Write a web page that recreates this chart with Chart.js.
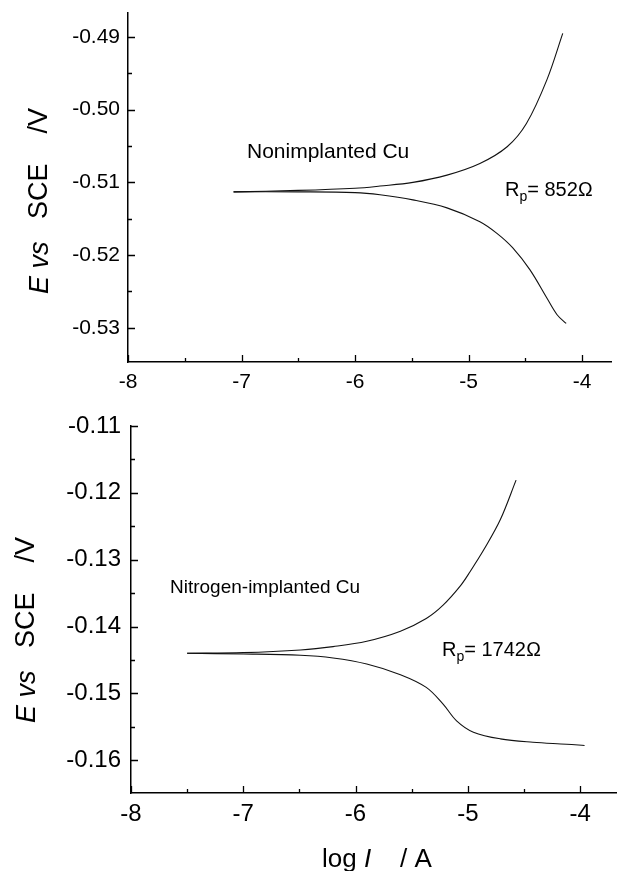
<!DOCTYPE html>
<html><head><meta charset="utf-8">
<script src="https://cdn.jsdelivr.net/npm/chart.js@4"></script>
<style>
html,body{margin:0;padding:0;background:#fff;}
#wrap{position:relative;width:617px;height:871px;overflow:hidden;}
canvas{position:absolute;left:0;}
</style></head><body>
<div id="wrap">
<canvas id="topChart" width="617" height="400" style="top:0"></canvas>
<canvas id="botChart" width="617" height="471" style="top:400px"></canvas>
</div>
<script>
// ---- Data ----
// Top panel: Nonimplanted Cu
const topAnodicLogI  = [-7.07, -6.5, -6.0, -5.78, -5.49, -5.19, -4.90, -4.66, -4.49, -4.31, -4.17];
const topAnodicE     = [-0.5113, -0.5111, -0.5108, -0.5105, -0.5100, -0.5090, -0.5074, -0.5051, -0.5019, -0.4959, -0.4895];
const topCathodicLogI = [-7.07, -6.5, -6.0, -5.78, -5.49, -5.19, -4.90, -4.75, -4.61, -4.46, -4.31, -4.22, -4.14];
const topCathodicE    = [-0.5113, -0.5113, -0.5114, -0.5117, -0.5124, -0.5135, -0.5154, -0.5170, -0.5190, -0.5220, -0.5259, -0.5282, -0.5294];
// Bottom panel: Nitrogen-implanted Cu
const botAnodicLogI  = [-7.5, -7.0, -6.49, -6.20, -5.90, -5.60, -5.37, -5.22, -5.07, -4.98, -4.85, -4.71, -4.57];
const botAnodicE     = [-0.1440, -0.1439, -0.1435, -0.1430, -0.1422, -0.1407, -0.1388, -0.1368, -0.1340, -0.1318, -0.1283, -0.1240, -0.1181];
const botCathodicLogI = [-7.5, -7.0, -6.49, -6.20, -5.90, -5.60, -5.37, -5.22, -5.10, -4.95, -4.71, -4.42, -4.12, -3.96];
const botCathodicE    = [-0.1440, -0.1441, -0.1443, -0.1447, -0.1456, -0.1472, -0.1491, -0.1516, -0.1541, -0.1558, -0.1568, -0.1573, -0.1576, -0.1578];
// Tick labels
const xTickValues = [-8, -7, -6, -5, -4];
const xMinorValues = [-7.5, -6.5, -5.5, -4.5];
const topYTicks = [-0.49, -0.50, -0.51, -0.52, -0.53];
const topYMinor = [-0.495, -0.505, -0.515, -0.525];
const botYTicks = [-0.11, -0.12, -0.13, -0.14, -0.15, -0.16];
const botYMinor = [-0.115, -0.125, -0.135, -0.145, -0.155];
// Annotation texts
const topLabel = 'Nonimplanted Cu';
const topRp = '852';
const botLabel = 'Nitrogen-implanted Cu';
const botRp = '1742';

const FONT = '"Liberation Sans", Arial, Helvetica, sans-serif';

function pts(xs, ys){ return xs.map((x,i)=>({x:x, y:ys[i]})); }

function drawRich(ctx, parts, cx, cy, rot){
  ctx.save();
  ctx.translate(cx, cy);
  ctx.rotate(rot||0);
  let w = 0;
  parts.forEach(p=>{ ctx.font = p.font; p.w = ctx.measureText(p.t).width; w += p.w; });
  let x = -w/2;
  ctx.textBaseline = 'middle';
  ctx.textAlign = 'left';
  ctx.fillStyle = '#000';
  parts.forEach(p=>{ ctx.font = p.font; ctx.fillText(p.t, x, p.dy||0); x += p.w; });
  ctx.restore();
}

function drawRp(ctx, x, y, val, size){
  ctx.save();
  ctx.fillStyle = '#000';
  ctx.textBaseline = 'middle';
  ctx.textAlign = 'left';
  ctx.font = size + 'px ' + FONT;
  ctx.fillText('R', x, y);
  let w = ctx.measureText('R').width;
  ctx.font = Math.round(size*0.7) + 'px ' + FONT;
  ctx.fillText('p', x + w, y + size*0.35);
  w += ctx.measureText('p').width;
  ctx.font = size + 'px ' + FONT;
  ctx.fillText('= ' + val + '\u2126', x + w, y);
  ctx.restore();
}

function makeDecor(cfg){
  return {
    id: 'decor',
    afterDraw(chart){
      const ctx = chart.ctx, xs = chart.scales.x, ys = chart.scales.y, a = chart.chartArea;
      ctx.save();
      ctx.strokeStyle = '#000';
      ctx.lineWidth = 1.3;
      ctx.beginPath();
      cfg.xMajor.forEach(v=>{ const p = Math.round(xs.getPixelForValue(v))+0.5; ctx.moveTo(p, a.bottom); ctx.lineTo(p, a.bottom-7); });
      cfg.xMinor.forEach(v=>{ const p = Math.round(xs.getPixelForValue(v))+0.5; ctx.moveTo(p, a.bottom); ctx.lineTo(p, a.bottom-4); });
      cfg.yMajor.forEach(v=>{ const p = Math.round(ys.getPixelForValue(v))+0.5; ctx.moveTo(a.left, p); ctx.lineTo(a.left+7, p); });
      cfg.yMinor.forEach(v=>{ const p = Math.round(ys.getPixelForValue(v))+0.5; ctx.moveTo(a.left, p); ctx.lineTo(a.left+4, p); });
      ctx.stroke();
      ctx.restore();
      // y title
      const ts = cfg.titleSize;
      drawRich(ctx, [
        {t:'E', font:'italic '+ts+'px '+FONT},
        {t:' vs', font:'italic '+ts+'px '+FONT},
        {t:'   SCE    /V', font:ts+'px '+FONT}
      ], cfg.yTitleX, cfg.yTitleY, -Math.PI/2);
      if (cfg.xTitle){
        drawRich(ctx, [
          {t:'log ', font:cfg.xTitleSize+'px '+FONT},
          {t:'I', font:'italic '+cfg.xTitleSize+'px '+FONT},
          {t:'    / A', font:cfg.xTitleSize+'px '+FONT}
        ], cfg.xTitleX, cfg.xTitleY, 0);
      }
      ctx.save();
      ctx.fillStyle = '#000';
      ctx.textBaseline = 'middle';
      ctx.textAlign = 'left';
      ctx.font = cfg.labelSize + 'px ' + FONT;
      ctx.fillText(cfg.label, cfg.labelX, cfg.labelY);
      ctx.restore();
      drawRp(ctx, cfg.rpX, cfg.rpY, cfg.rp, cfg.rpSize);
    }
  };
}

function zeroPad(s){ s.paddingTop = 0; s.paddingBottom = 0; s.paddingLeft = 0; s.paddingRight = 0; }

function makeChart(id, o){
  const line = {borderColor:'#111', borderWidth:1.1, pointRadius:0, showLine:true, fill:false, tension:0.35};
  return new Chart(document.getElementById(id), {
    type: 'scatter',
    data: { datasets: [
      Object.assign({data: pts(o.ax, o.ay)}, line),
      Object.assign({data: pts(o.cx, o.cy)}, line)
    ]},
    options: {
      responsive: false,
      devicePixelRatio: 1,
      animation: false,
      events: [],
      layout: { padding: o.padding },
      plugins: { legend:{display:false}, tooltip:{enabled:false} },
      scales: {
        x: {
          type:'linear', min:-8, max:o.xMax,
          grid:{display:false, drawTicks:false},
          border:{display:true, color:'#000', width:1.5},
          afterBuildTicks: s => { s.ticks = xTickValues.map(v=>({value:v})); },
          afterFit: s => { s.height = o.xH; zeroPad(s); },
          ticks:{ color:'#000', font:{family:FONT, size:o.tickSize}, padding:o.xPad, maxRotation:0, autoSkip:false,
                  callback: v => String(v) }
        },
        y: {
          type:'linear', min:o.yMin, max:o.yMax,
          grid:{display:false, drawTicks:false},
          border:{display:true, color:'#000', width:1.5},
          afterBuildTicks: s => { s.ticks = o.yTicks.map(v=>({value:v})); },
          afterFit: s => { s.width = o.yW; zeroPad(s); },
          ticks:{ color:'#000', font:{family:FONT, size:o.tickSize}, padding:o.yPad, autoSkip:false,
                  callback: v => v.toFixed(2) }
        }
      }
    },
    plugins: [makeDecor(o.decor)]
  });
}

makeChart('topChart', {
  ax: topAnodicLogI, ay: topAnodicE, cx: topCathodicLogI, cy: topCathodicE,
  xMax: -3.745, yMin: -0.5347, yMax: -0.4867, yTicks: topYTicks,
  padding: {left:0, right:6, top:13, bottom:0}, xH: 38, yW: 128,
  tickSize: 21, xPad: 8, yPad: 8,
  decor: { xMajor: xTickValues, xMinor: xMinorValues, yMajor: topYTicks, yMinor: topYMinor,
    titleSize: 27, yTitleX: 40, yTitleY: 201, xTitle: false,
    label: topLabel, labelX: 247, labelY: 152, labelSize: 21,
    rp: topRp, rpX: 505, rpY: 190, rpSize: 20 }
});

makeChart('botChart', {
  ax: botAnodicLogI, ay: botAnodicE, cx: botCathodicLogI, cy: botCathodicE,
  xMax: -3.68, yMin: -0.1649, yMax: -0.11, yTicks: botYTicks,
  padding: {left:0, right:1, top:26, bottom:0}, xH: 78, yW: 131,
  tickSize: 24, xPad: 7, yPad: 10,
  decor: { xMajor: xTickValues, xMinor: xMinorValues, yMajor: botYTicks, yMinor: botYMinor,
    titleSize: 27, yTitleX: 27, yTitleY: 230, xTitle: true, xTitleX: 377, xTitleY: 460, xTitleSize: 26,
    label: botLabel, labelX: 170, labelY: 188, labelSize: 19,
    rp: botRp, rpX: 442, rpY: 250, rpSize: 20 }
});
</script>
</body></html>
